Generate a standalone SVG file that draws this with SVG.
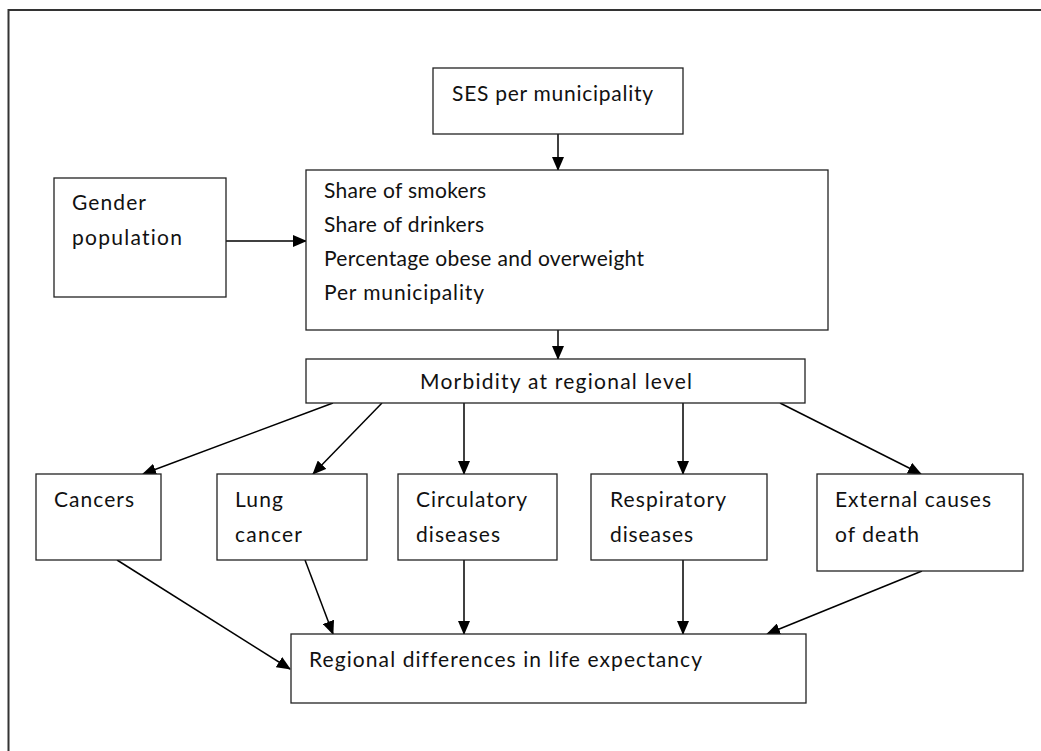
<svg xmlns="http://www.w3.org/2000/svg" width="1041" height="751" viewBox="0 0 1041 751">
<defs>
<marker id="ah" markerWidth="14" markerHeight="12" refX="13" refY="6" orient="auto" markerUnits="userSpaceOnUse">
<path d="M0,0 L14,6 L0,12 Z" fill="#000"/>
</marker>
<style>
.box{fill:#fff;stroke:#222;stroke-width:1.3}
.t{font-family:Lato,"Open Sans","Liberation Sans",sans-serif;font-size:21px;fill:#111;font-variant-ligatures:none;font-feature-settings:"liga" 0,"dlig" 0}
.c{stroke:#000;stroke-width:1.5;fill:none;marker-end:url(#ah)}
</style>
</defs>
<rect width="1041" height="751" fill="#fff"/>
<rect x="8.5" y="10" width="1100" height="800" fill="none" stroke="#333" stroke-width="2"/>
<g id="connectors">
<line class="c" x1="558" y1="134" x2="558" y2="170"/>
<line class="c" x1="226" y1="241" x2="306" y2="241"/>
<line class="c" x1="558" y1="330" x2="558" y2="359"/>
<line class="c" x1="333" y1="403" x2="143" y2="474"/>
<line class="c" x1="382" y1="403" x2="313" y2="474"/>
<line class="c" x1="464" y1="403" x2="464" y2="474"/>
<line class="c" x1="683" y1="403" x2="683" y2="474"/>
<line class="c" x1="780" y1="403" x2="921" y2="474"/>
<line class="c" x1="117" y1="560" x2="290" y2="669"/>
<line class="c" x1="305" y1="560" x2="333" y2="634"/>
<line class="c" x1="464" y1="560" x2="464" y2="634"/>
<line class="c" x1="683" y1="560" x2="683" y2="634"/>
<line class="c" x1="922" y1="571" x2="767" y2="634"/>
</g>
<g id="ses"><rect class="box" x="433" y="68" width="250" height="66"/><text class="t" x="452" y="101" textLength="201">SES per municipality</text></g>
<g id="gender"><rect class="box" x="54" y="178" width="172" height="119"/><text class="t" x="72" y="210" textLength="74">Gender</text><text class="t" x="72" y="245" textLength="110">population</text></g>
<g id="lifestyle"><rect class="box" x="306" y="170" width="522" height="160"/>
<text class="t" x="324" y="198" textLength="162">Share of smokers</text>
<text class="t" x="324" y="232" textLength="160">Share of drinkers</text>
<text class="t" x="324" y="266" textLength="320">Percentage obese and overweight</text>
<text class="t" x="324" y="300" textLength="160">Per municipality</text></g>
<g id="morbidity"><rect class="box" x="306" y="359" width="499" height="44"/><text class="t" x="420" y="389" textLength="272">Morbidity at regional level</text></g>
<g id="cancers"><rect class="box" x="36" y="474" width="125" height="86"/><text class="t" x="54" y="507" textLength="80">Cancers</text></g>
<g id="lung"><rect class="box" x="217" y="474" width="150" height="86"/><text class="t" x="235" y="507" textLength="48">Lung</text><text class="t" x="235" y="542" textLength="67">cancer</text></g>
<g id="circulatory"><rect class="box" x="398" y="474" width="159" height="86"/><text class="t" x="416" y="507" textLength="111">Circulatory</text><text class="t" x="416" y="542" textLength="84">diseases</text></g>
<g id="respiratory"><rect class="box" x="591" y="474" width="176" height="86"/><text class="t" x="610" y="507" textLength="116">Respiratory</text><text class="t" x="610" y="542" textLength="83">diseases</text></g>
<g id="external"><rect class="box" x="817" y="474" width="206" height="97"/><text class="t" x="835" y="507" textLength="156">External causes</text><text class="t" x="835" y="542" textLength="84">of death</text></g>
<g id="regional"><rect class="box" x="291" y="634" width="515" height="69"/><text class="t" x="309" y="667" textLength="393">Regional differences in life expectancy</text></g>
</svg>
